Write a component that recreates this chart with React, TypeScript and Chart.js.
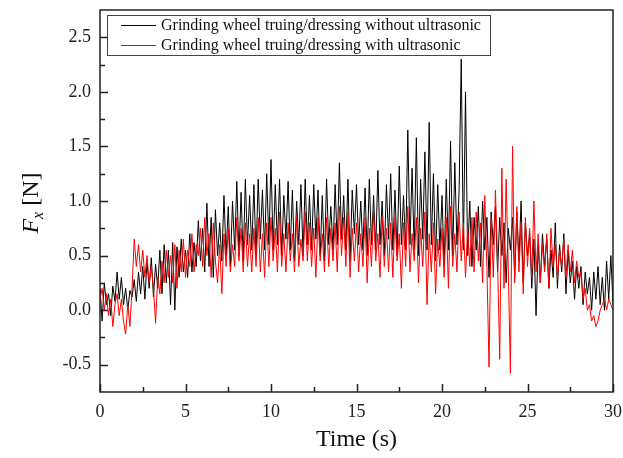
import React, { useEffect, useRef } from "react";
import { Chart, registerables } from "chart.js";

Chart.register(...registerables);

const TIME_STEP = 0.125; // seconds between samples

const withoutUltrasonic = [
  0.20, -0.10, 0.25, 0.05, 0.15, -0.05, 0.22, 0.08,
  0.35, 0.10, 0.30, 0.05, 0.20, 0.00, 0.18, 0.12,
  0.28, 0.08, 0.35, 0.15, 0.40, 0.10, 0.45, 0.20,
  0.48, 0.12, 0.42, 0.20, 0.55, 0.15, 0.60, 0.25,
  0.55, 0.05, 0.62, 0.00, 0.58, 0.30, 0.65, 0.35,
  0.55, 0.30, 0.70, 0.35, 0.62, 0.40, 0.82, 0.45,
  0.75, 0.35, 0.98, 0.40, 0.85, 0.30, 0.92, 0.50,
  0.80, 0.45, 1.05, 0.50, 0.95, 0.40, 1.00, 0.55,
  1.18, 0.50, 1.08, 0.45, 1.20, 0.60, 1.05, 0.55,
  1.15, 0.50, 1.20, 0.65, 1.10, 0.55, 1.25, 0.60,
  1.38, 0.55, 1.15, 0.60, 1.20, 0.50, 1.05, 0.65,
  1.18, 0.55, 1.10, 0.45, 1.00, 0.60, 1.15, 0.50,
  1.20, 0.60, 1.05, 0.55, 1.15, 0.65, 1.10, 0.50,
  1.05, 0.45, 1.20, 0.60, 0.95, 0.55, 1.15, 0.60,
  1.35, 0.65, 1.05, 0.55, 1.20, 0.45, 1.10, 0.70,
  1.15, 0.60, 1.00, 0.55, 1.12, 0.50, 1.20, 0.60,
  1.05, 0.55, 1.28, 0.60, 1.00, 0.50, 1.15, 0.65,
  1.25, 0.55, 1.10, 0.50, 1.32, 0.60, 1.05, 0.55,
  1.65, 0.60, 1.30, 0.55, 1.58, 0.50, 1.20, 0.65,
  1.45, 0.55, 1.72, 0.60, 1.25, 0.45, 1.15, 0.55,
  1.05, 0.40, 1.20, 0.55, 1.55, 0.50, 1.35, 0.60,
  1.10, 2.30, 0.55, 2.00, 0.50, 1.00, 0.40, 0.85,
  0.55, 0.95, 0.40, 1.00, 0.55, 0.85, 0.30, 0.90,
  0.60, 0.95, 0.35, 0.85, 0.50, 0.80, 0.25, 0.75,
  0.55, 0.85, 0.30, 0.90, 0.45, 1.00, 0.25, 0.80,
  0.50, 0.70, 0.20, 0.65, -0.05, 0.60, 0.25, 0.70,
  0.40, 0.65, 0.20, 0.55, 0.30, 0.80, 0.20, 0.60,
  0.35, 0.70, 0.15, 0.55, 0.25, 0.45, 0.10, 0.40,
  0.20, 0.40, 0.05, 0.35, 0.15, 0.30, 0.00, 0.35,
  0.10, 0.40, 0.05, 0.30, 0.00, 0.45, 0.10, 0.50,
  0.05,
];

const withUltrasonic = [
  0.10, 0.20, 0.00, 0.15, -0.05, 0.10, -0.15, 0.05,
  0.15, -0.05, 0.10, -0.10, -0.22, 0.05, -0.15, 0.20,
  0.65, 0.40, 0.60, 0.35, 0.55, 0.30, 0.50, 0.25,
  0.40, 0.20, -0.12, 0.30, 0.15, 0.45, 0.25, 0.55,
  0.30, 0.50, 0.25, 0.60, 0.20, 0.55, 0.35, 0.65,
  0.30, 0.55, 0.40, 0.70, 0.35, 0.60, 0.50, 0.75,
  0.40, 0.85, 0.50, 0.70, 0.30, 0.80, 0.45, 0.25,
  0.60, 0.15, 0.70, 0.40, 0.75, 0.35, 0.60, 0.40,
  0.85, 0.45, 0.75, 0.35, 0.80, 0.40, 0.70, 0.35,
  0.75, 0.40, 0.85, 0.35, 0.70, 0.30, 0.80, 0.40,
  0.85, 0.45, 0.75, 0.35, 0.90, 0.40, 0.70, 0.35,
  0.80, 0.45, 0.70, 0.35, 0.85, 0.40, 0.65, 0.45,
  0.90, 0.45, 0.80, 0.40, 0.75, 0.30, 0.85, 0.45,
  0.70, 0.35, 0.85, 0.40, 0.75, 0.45, 0.80, 0.35,
  0.95, 0.50, 0.85, 0.40, 0.90, 0.30, 0.75, 0.45,
  0.80, 0.35, 0.70, 0.40, 0.85, 0.25, 0.75, 0.40,
  0.90, 0.45, 0.70, 0.30, 0.85, 0.40, 0.75, 0.35,
  0.80, 0.30, 0.85, 0.45, 0.70, 0.20, 0.80, 0.40,
  0.95, 0.35, 0.70, 0.45, 0.85, 0.25, 0.75, 0.40,
  0.90, 0.05, 0.70, 0.35, 0.80, 0.15, 0.65, 0.40,
  0.75, 0.30, 0.85, 0.20, 0.95, 0.40, 0.70, 0.35,
  0.90, 0.45, 0.80, 0.30, 0.75, 0.40, 0.85, 0.35,
  0.90, 0.45, 0.80, 0.25, 1.05, 0.40, -0.52, 0.85,
  0.30, 1.10, 0.45, -0.45, 1.30, 0.20, 1.20, 0.40,
  -0.58, 1.50, 0.25, 0.95, 0.35, 0.80, 0.15, 0.85,
  0.40, 0.75, 0.30, 1.00, 0.35, 0.70, 0.25, 0.60,
  0.35, 0.70, 0.20, 0.75, 0.40, 0.60, 0.30, 0.55,
  0.40, 0.65, 0.30, 0.60, 0.35, 0.55, 0.25, 0.45,
  0.30, 0.35, 0.10, 0.20, 0.00, 0.05, -0.10, -0.05,
  -0.15, -0.10, 0.00, 0.05, 0.10, 0.00, 0.10, 0.05,
  0.00,
];

const seriesLabels = [
  "Grinding wheel truing/dressing without ultrasonic",
  "Grinding wheel truing/dressing with ultrasonic",
];
const seriesColors = ["#000000", "#ff0000"];

const xTicks = [0, 5, 10, 15, 20, 25, 30];
const xMinorTicks = [2.5, 7.5, 12.5, 17.5, 22.5, 27.5];
const yTicks = [-0.5, 0, 0.5, 1, 1.5, 2, 2.5];
const yMinorTicks = [-0.25, 0.25, 0.75, 1.25, 1.75, 2.25];

const X_MIN = 0;
const X_MAX = 30;
const Y_MIN = -0.75;
const Y_MAX = 2.75;

const SERIF = "'Liberation Serif', 'DejaVu Serif', serif";

const toPoints = (vals: number[]) =>
  vals.map((v, i) => ({ x: i * TIME_STEP, y: v }));

const framePlugin = {
  id: "frameAndDecor",
  afterDraw(chart: any) {
    const ctx = chart.ctx;
    const { left, right, top, bottom } = chart.chartArea;
    const xs = chart.scales.x;
    const ys = chart.scales.y;
    ctx.save();
    // frame
    ctx.strokeStyle = "#222";
    ctx.lineWidth = 1.5;
    ctx.strokeRect(left, top, right - left, bottom - top);
    // inward ticks
    ctx.lineWidth = 1.5;
    ctx.beginPath();
    for (const v of yTicks) {
      const y = Math.round(ys.getPixelForValue(v)) + 0.5;
      ctx.moveTo(left, y);
      ctx.lineTo(left + 8, y);
    }
    for (const v of yMinorTicks) {
      const y = Math.round(ys.getPixelForValue(v)) + 0.5;
      ctx.moveTo(left, y);
      ctx.lineTo(left + 5, y);
    }
    for (const v of xTicks) {
      const x = Math.round(xs.getPixelForValue(v)) + 0.5;
      ctx.moveTo(x, bottom);
      ctx.lineTo(x, bottom - 8);
    }
    for (const v of xMinorTicks) {
      const x = Math.round(xs.getPixelForValue(v)) + 0.5;
      ctx.moveTo(x, bottom);
      ctx.lineTo(x, bottom - 5);
    }
    ctx.stroke();

    // legend
    const lx = 107.5;
    const ly = 15.5;
    const lw = 383;
    const lh = 40;
    ctx.fillStyle = "#ffffff";
    ctx.fillRect(lx, ly, lw, lh);
    ctx.strokeStyle = "#444";
    ctx.lineWidth = 1;
    ctx.strokeRect(lx, ly, lw, lh);
    ctx.font = `16px ${SERIF}`;
    ctx.textBaseline = "middle";
    ctx.textAlign = "left";
    seriesLabels.forEach((label, i) => {
      const cy = ly + 10 + i * 20;
      ctx.strokeStyle = seriesColors[i];
      ctx.lineWidth = 1;
      ctx.beginPath();
      ctx.moveTo(121, cy);
      ctx.lineTo(156, cy);
      ctx.stroke();
      ctx.fillStyle = "#111";
      ctx.fillText(label, 161, cy);
    });

    // x title
    ctx.fillStyle = "#111";
    ctx.font = `24px ${SERIF}`;
    ctx.textAlign = "center";
    ctx.textBaseline = "middle";
    ctx.fillText("Time (s)", (left + right) / 2, 440);

    // y title: F_x [N]
    ctx.translate(30, (top + bottom) / 2 + 2);
    ctx.rotate(-Math.PI / 2);
    const fFont = `italic 24px ${SERIF}`;
    const subFont = `italic 16px ${SERIF}`;
    const nFont = `24px ${SERIF}`;
    ctx.font = fFont;
    const wF = ctx.measureText("F").width;
    ctx.font = subFont;
    const wX = ctx.measureText("x").width;
    ctx.font = nFont;
    const wN = ctx.measureText(" [N]").width;
    const total = wF + wX + wN;
    let cx = -total / 2;
    ctx.textAlign = "left";
    ctx.textBaseline = "alphabetic";
    ctx.font = fFont;
    ctx.fillText("F", cx, 8);
    cx += wF;
    ctx.font = subFont;
    ctx.fillText("x", cx, 13);
    cx += wX;
    ctx.font = nFont;
    ctx.fillText(" [N]", cx, 8);
    ctx.restore();
  },
};

export default function App() {
  const canvasRef = useRef<HTMLCanvasElement | null>(null);

  useEffect(() => {
    if (!canvasRef.current) return;
    const chart = new Chart(canvasRef.current, {
      type: "line",
      data: {
        datasets: [
          {
            label: seriesLabels[0],
            data: toPoints(withoutUltrasonic),
            borderColor: seriesColors[0],
            borderWidth: 1,
            pointRadius: 0,
            tension: 0,
            order: 1,
          },
          {
            label: seriesLabels[1],
            data: toPoints(withUltrasonic),
            borderColor: seriesColors[1],
            borderWidth: 1,
            pointRadius: 0,
            tension: 0,
            order: 0,
          },
        ],
      },
      options: {
        animation: false,
        responsive: false,
        layout: { padding: { left: 0, top: 10, right: 10, bottom: 0 } },
        plugins: {
          legend: { display: false },
          tooltip: { enabled: false },
        },
        scales: {
          x: {
            type: "linear",
            min: X_MIN,
            max: X_MAX,
            grid: { display: false, drawTicks: false },
            border: { display: false },
            afterBuildTicks: (s: any) => {
              s.ticks = xTicks.map((v) => ({ value: v }));
            },
            afterFit: (s: any) => {
              s.height = 66;
              s.paddingLeft = 0;
              s.paddingRight = 0;
            },
            ticks: {
              padding: 9,
              maxRotation: 0,
              color: "#222",
              font: { family: SERIF, size: 18 },
              callback: (v: any) => String(v),
            },
          },
          y: {
            type: "linear",
            min: Y_MIN,
            max: Y_MAX,
            grid: { display: false, drawTicks: false },
            border: { display: false },
            afterBuildTicks: (s: any) => {
              s.ticks = yTicks.map((v) => ({ value: v }));
            },
            afterFit: (s: any) => {
              s.width = 100;
              s.paddingTop = 0;
              s.paddingBottom = 0;
            },
            ticks: {
              padding: 9,
              color: "#222",
              font: { family: SERIF, size: 18 },
              callback: (v: any) => Number(v).toFixed(1),
            },
          },
        },
      },
      plugins: [framePlugin],
    });
    return () => chart.destroy();
  }, []);

  return (
    <div
      style={{
        position: "fixed",
        left: 0,
        top: 0,
        width: 623,
        height: 458,
        background: "#fff",
      }}
    >
      <canvas
        ref={canvasRef}
        width={623}
        height={458}
        style={{ display: "block" }}
      />
    </div>
  );
}
